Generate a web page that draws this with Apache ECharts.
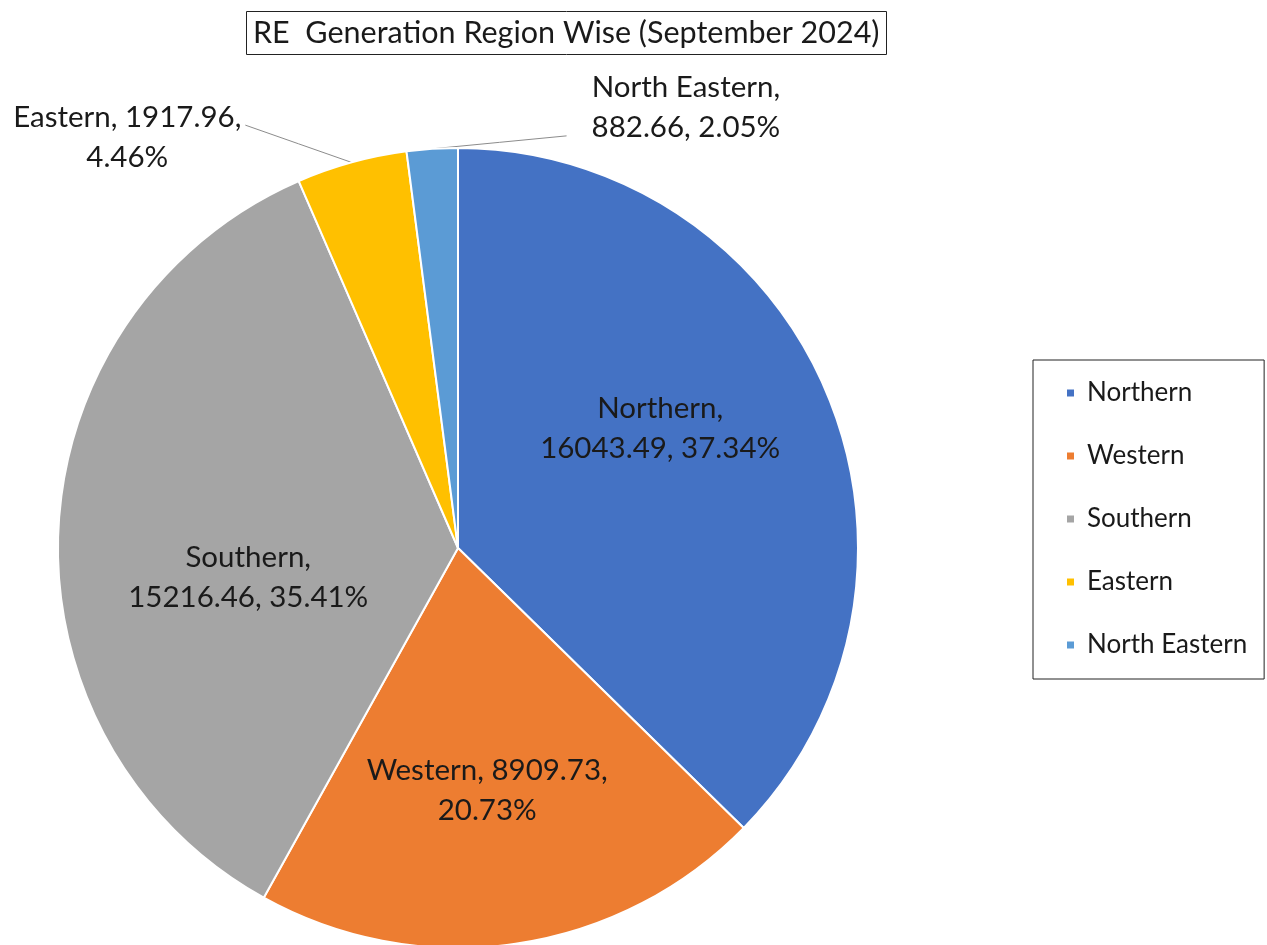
<!DOCTYPE html>
<html>
<head>
<meta charset="utf-8">
<script src="https://cdn.jsdelivr.net/npm/echarts@6/dist/echarts.min.js"></script>
<style>
html,body{margin:0;padding:0;background:#fff;}
#chart{width:1267px;height:945px;}
</style>
</head>
<body>
<div id="chart"></div>
<script>
const titleText = 'RE  Generation Region Wise (September 2024)';
const categories = ['Northern', 'Western', 'Southern', 'Eastern', 'North Eastern'];
const values = [16043.49, 8909.73, 15216.46, 1917.96, 882.66];
const colors = ['#4472C4', '#ED7D31', '#A5A5A5', '#FFC000', '#5B9BD5'];

const total = values.reduce((a, b) => a + b, 0);
// where the label text wraps: after the name or after the value
const wrapAfter = ['name', 'value', 'name', 'value', 'name'];
const outside = [false, false, false, true, true];
const labelShift = [[15, -41], [0, 42], [-7, 39], [-194, -6], [280, -21]];
// leader line end relative to the label box: [side (0 left,1 right), x gap, fraction of height]
const lineEndAt = [null, null, null, [1, 4, 0.35], [0, -25, 0.85]];

const FONT = 'Lato, "Open Sans", sans-serif';

const chart = echarts.init(document.getElementById('chart'));
chart.setOption({
  backgroundColor: '#fff',
  animation: false,
  title: {
    text: titleText,
    left: 246,
    top: 12,
    padding: [6, 7, 6, 7],
    borderColor: '#222',
    borderWidth: 1,
    textStyle: { fontFamily: FONT, fontSize: 30.5, lineHeight: 30, fontWeight: 'normal', color: '#1a1a1a' }
  },
  legend: {
    orient: 'vertical',
    left: 1033,
    top: 360,
    padding: [20, 17, 21, 32],
    itemGap: 37,
    itemWidth: 9,
    itemHeight: 9,
    icon: 'rect',
    borderColor: '#222',
    borderWidth: 1,
    data: categories,
    textStyle: { fontFamily: FONT, fontSize: 26, color: '#1a1a1a', lineHeight: 24, padding: [0, 0, 0, 7] }
  },
  series: [{
    type: 'pie',
    center: [458, 548],
    radius: 400,
    startAngle: 90,
    clockwise: true,
    avoidLabelOverlap: false,
    itemStyle: { borderColor: '#fff', borderWidth: 2 },
    labelLine: { lineStyle: { color: '#8c8c8c', width: 1 } },
    labelLayout: function (p) {
      const i = p.dataIndex;
      const s = labelShift[i];
      const r = p.labelRect;
      const res = { dx: s[0], dy: s[1], align: 'center' };
      const e = lineEndAt[i];
      if (e && p.labelLinePoints) {
        const anchorX = p.align === 'right' ? r.x + r.width : (p.align === 'left' ? r.x : r.x + r.width / 2);
        const cx = anchorX + s[0];
        const top = r.y + s[1];
        const ex = (e[0] === 1 ? cx + r.width / 2 : cx - r.width / 2) + e[1];
        const ey = top + r.height * e[2];
        const st = p.labelLinePoints[0];
        res.labelLinePoints = [
          [st[0], st[1]],
          [(st[0] + ex) / 2, (st[1] + ey) / 2],
          [ex, ey]
        ];
      }
      return res;
    },
    data: categories.map((c, i) => ({
      name: c,
      value: values[i],
      itemStyle: { color: colors[i] },
      label: {
        show: true,
        position: outside[i] ? 'outside' : 'inside',
        fontFamily: FONT,
        fontSize: 29.5,
        lineHeight: 40,
        color: '#1a1a1a',
        align: 'center'
      },
      labelLine: { show: outside[i], length: 20, length2: 20 }
    })),
    label: {
      formatter: function (p) {
        const pct = (p.value / total * 100).toFixed(2) + '%';
        const v = p.value.toFixed(2);
        if (wrapAfter[p.dataIndex] === 'name') return p.name + ',\n' + v + ', ' + pct;
        return p.name + ', ' + v + ',\n' + pct;
      }
    }
  }]
});
</script>
</body>
</html>
